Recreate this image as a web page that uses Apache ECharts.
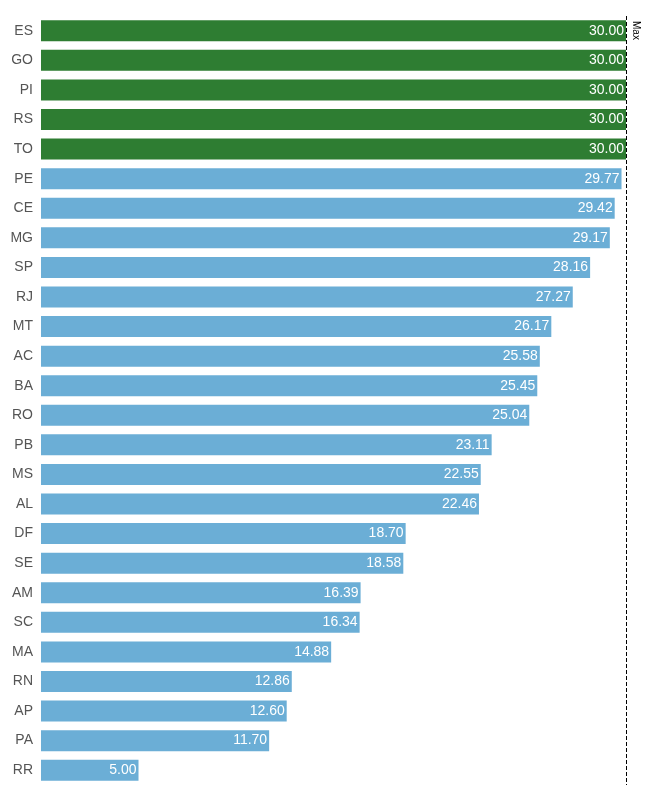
<!DOCTYPE html>
<html>
<head>
    <meta charset="UTF-8">
    <style type="text/css">
        html, body { margin: 0; padding: 0; background: #fff; }
        #chart { width: 652px; height: 800px; }
    </style>
</head>
<body>
    <div id="chart"></div>
    <script src="https://cdn.jsdelivr.net/npm/echarts@6/dist/echarts.min.js"></script>
    <script type="text/javascript">
        var states = ['ES', 'GO', 'PI', 'RS', 'TO', 'PE', 'CE', 'MG', 'SP', 'RJ', 'MT', 'AC', 'BA',
            'RO', 'PB', 'MS', 'AL', 'DF', 'SE', 'AM', 'SC', 'MA', 'RN', 'AP', 'PA', 'RR'];
        var values = [30.00, 30.00, 30.00, 30.00, 30.00, 29.77, 29.42, 29.17, 28.16, 27.27, 26.17, 25.58, 25.45,
            25.04, 23.11, 22.55, 22.46, 18.70, 18.58, 16.39, 16.34, 14.88, 12.86, 12.60, 11.70, 5.00];
        var maxValue = 30;

        var chart = echarts.init(document.getElementById('chart'));
        chart.setOption({
            animation: false,
            grid: { left: 41, right: 26, top: 16, bottom: 15 },
            xAxis: {
                type: 'value',
                min: 0,
                max: maxValue,
                show: false
            },
            yAxis: {
                type: 'category',
                inverse: true,
                data: states,
                axisLine: { show: false },
                axisTick: { show: false },
                axisLabel: { color: '#555', fontSize: 14, margin: 8, fontFamily: 'Liberation Sans, Arial' }
            },
            series: [{
                type: 'bar',
                barWidth: 21,
                data: values.map(function (v) {
                    return {
                        value: v,
                        itemStyle: { color: v >= maxValue ? '#2e7d32' : '#6baed6' }
                    };
                }),
                label: {
                    show: true,
                    position: 'insideRight',
                    distance: 2,
                    color: '#fff',
                    fontSize: 14,
                    fontFamily: 'Liberation Sans, Arial',
                    formatter: function (p) { return p.value.toFixed(2); }
                },
                markLine: {
                    silent: true,
                    symbol: 'none',
                    lineStyle: { color: '#000', type: 'dashed', width: 1 },
                    label: {
                        show: true,
                        formatter: 'Max',
                        position: 'insideStartTop',
                        color: '#000',
                        fontSize: 10
                    },
                    data: [{ xAxis: maxValue }]
                }
            }]
        });
    </script>
</body>
</html>
